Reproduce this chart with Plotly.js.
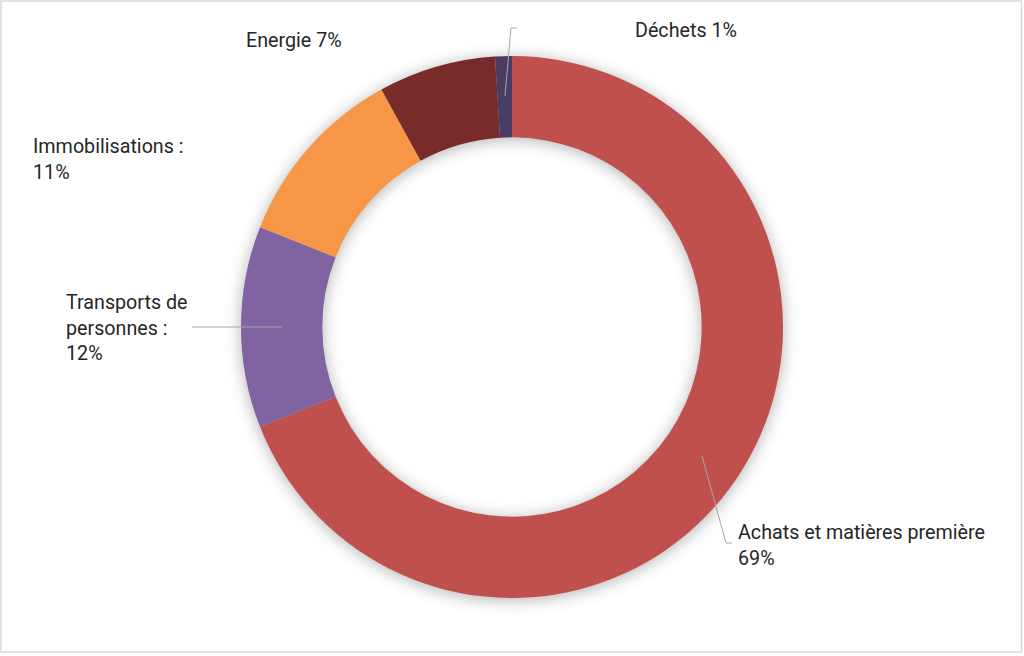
<!DOCTYPE html>
<html>
<head>
<meta charset="utf-8">
<script src="https://cdn.plot.ly/plotly-3.0.1.min.js"></script>
<style>
  html, body { margin: 0; padding: 0; background: #fff; }
  #chart { width: 1024px; height: 656px; }
  .pielayer { filter: drop-shadow(0px 2px 8px rgba(0,0,0,0.3)); }
</style>
</head>
<body>
<div id="chart"></div>
<script>
const categories = ['Achats et matières première', 'Transports de personnes', 'Immobilisations', 'Energie', 'Déchets'];
const values = [69, 12, 11, 7, 1];
const labelTexts = ['Achats et matières première<br>69%', 'Transports de<br>personnes :<br>12%', 'Immobilisations :<br>11%', 'Energie 7%', 'Déchets 1%'];
const colors = ['#C0504D', '#8064A2', '#F79646', '#772C2A', '#4A3C63'];

const W = 1024, H = 656;
const px = x => x / W;
const py = y => 1 - y / H;

// label anchor positions (pixels) and leader lines
const labelPos = [
  {x: 736, y: 545},
  {x: 64, y: 328},
  {x: 31, y: 159},
  {x: 244, y: 40},
  {x: 633, y: 30}
];
const leaders = [
  [[702, 456], [726, 543], [732, 543]],
  [[192, 327], [282, 327]],
  null,
  null,
  [[505, 96], [511, 28], [517, 28]]
];

const annotations = labelTexts.map((t, i) => ({
  text: t,
  x: px(labelPos[i].x), y: py(labelPos[i].y),
  xref: 'paper', yref: 'paper',
  xanchor: 'left', yanchor: 'middle', align: 'left',
  showarrow: false,
  font: {family: 'Roboto, sans-serif', size: 19.7, color: '#262626'}
}));

const shapes = [];
leaders.forEach(l => {
  if (!l) return;
  for (let k = 0; k < l.length - 1; k++) {
    shapes.push({type: 'line', xref: 'paper', yref: 'paper',
      x0: px(l[k][0]), y0: py(l[k][1]), x1: px(l[k+1][0]), y1: py(l[k+1][1]),
      line: {color: '#A6A6A6', width: 1}});
  }
});
shapes.push({type: 'rect', xref: 'paper', yref: 'paper',
  x0: px(1), y0: py(1), x1: px(1021.5), y1: py(652),
  line: {color: '#D9D9D9', width: 1.5}, fillcolor: 'rgba(0,0,0,0)'});

const trace = {
  type: 'pie',
  labels: categories,
  values: values,
  hole: 0.7,
  sort: false,
  direction: 'clockwise',
  rotation: 0,
  textinfo: 'none',
  hoverinfo: 'label+percent',
  marker: {colors: colors, line: {width: 0}},
  domain: {x: [0, 1], y: [1 - 598 / H, 1 - 56 / H]},
  showlegend: false
};

Plotly.newPlot('chart', [trace], {
  width: W, height: H,
  margin: {l: 0, r: 0, t: 0, b: 0},
  paper_bgcolor: '#fff',
  showlegend: false,
  annotations: annotations,
  shapes: shapes
}, {displayModeBar: false, staticPlot: true});
</script>
</body>
</html>
